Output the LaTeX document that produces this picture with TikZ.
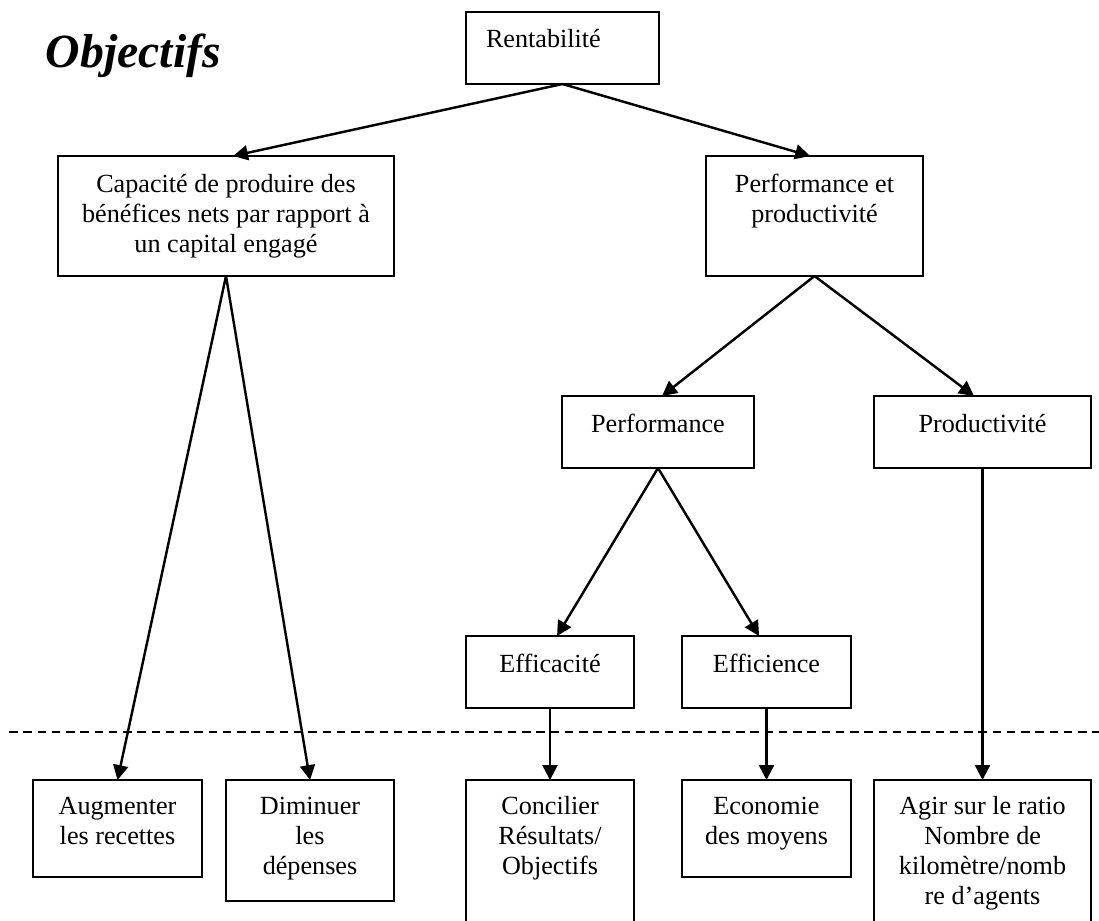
\documentclass[tikz,border=0pt]{standalone}
\usepackage{fontspec}
\setmainfont{Liberation Serif}
\usetikzlibrary{arrows.meta}

\begin{document}
\begin{tikzpicture}[x=0.47pt, y=-0.47pt, ->, >={Triangle[length=7pt,width=7pt]}, line width=0.9pt,
            every node/.style={font=\fontsize{12.3}{14.1}\selectfont},
            every edge/.style={draw, line width=1.15pt},
            bx/.style n args={3}{draw, rectangle, anchor=north west, inner sep=0pt, outer sep=0pt, align=flush center, text width=#1, text height=#2, text depth=#3}]
            \useasboundingbox (0,0) rectangle (1099,920);
            \node[anchor=base west, inner sep=0pt, font=\fontsize{22.4}{27}\selectfont\bfseries\itshape](T) at (45,67){Objectifs};
            \node[bx={71.9pt}{16.45pt}{17.39pt}, align=flush left, inner xsep=9.4pt](A) at (466,12){Rentabilité};
            \node[bx={157.92pt}{16.92pt}{39.48pt}](B) at (58,156){Capacité de produire des\\bénéfices nets par rapport à\\un capital engagé};
            \node[bx={101.99pt}{16.92pt}{39.48pt}](C) at (706,156){Performance et\\productivité};
            \node[bx={90.24pt}{16.92pt}{16.92pt}](D) at (562,396){Performance};
            \node[bx={101.99pt}{16.92pt}{16.92pt}](E) at (874,396){Productivité};
            \node[bx={78.96pt}{16.92pt}{16.92pt}](F) at (466,636){Efficacité};
            \node[bx={79.43pt}{16.92pt}{16.92pt}](G) at (682,636){Efficience};
            \node[bx={79.43pt}{15.98pt}{29.61pt}](H) at (33,780){Augmenter\\les recettes};
            \node[bx={78.96pt}{15.98pt}{40.89pt}](I) at (226,780){Diminuer\\les\\dépenses};
            \node[bx={78.96pt}{15.98pt}{54.52pt}](J) at (466,780){Concilier\\Résultats/\\Objectifs};
            \node[bx={79.43pt}{15.98pt}{29.61pt}](K) at (682,780){Economie\\des moyens};
            \node[bx={101.99pt}{15.98pt}{54.52pt}](L) at (874,780){Agir sur le ratio\\Nombre de\\kilomètre/nomb\\re d’agents};
            \draw[-, line width=0.7pt, dash pattern=on 4pt off 2.7pt] (9,732) -- (1099,732);
            \path
            (A.south) edge ([xshift=3.3pt]B.north)
            (A.south) edge ([xshift=-2.1pt]C.north)
            (B.south) edge (H.north)
            (B.south) edge (I.north)
            (C.south) edge ([xshift=1.9pt]D.north)
            (C.south) edge ([xshift=-4pt]E.north)
            (D.south) edge ([xshift=3.3pt]F.north)
            (D.south) edge ([xshift=-3.5pt]G.north)
            (F.south) edge (J.north)
            (G.south) edge (K.north)
            (E.south) edge (L.north)
            ;
        \end{tikzpicture}
\end{document}
